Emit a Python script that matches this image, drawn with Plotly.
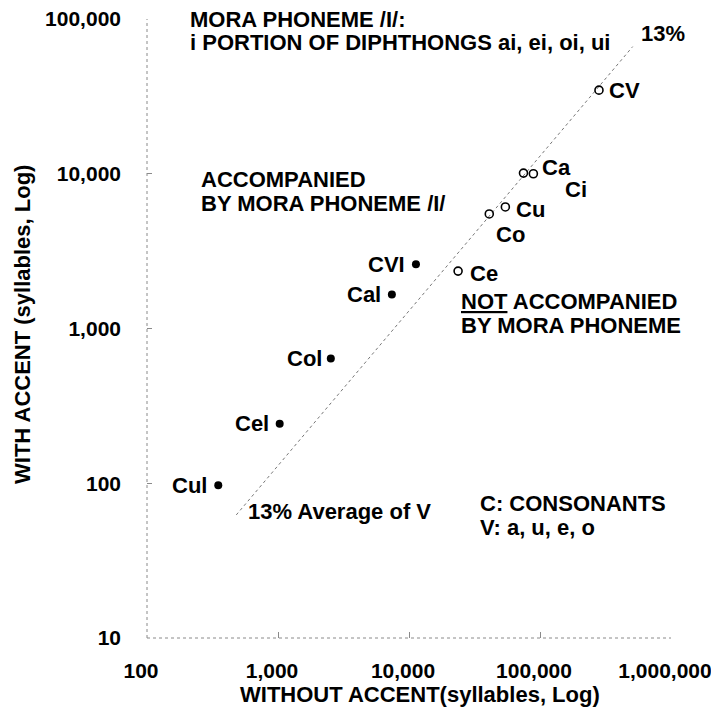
import numpy as np
import plotly.graph_objects as go

# syllables not accompanied by mora phoneme (open circles)
open_labels = ["CV", "Ca", "Ci", "Cu", "Co", "Ce"]
open_without = [282000, 74800, 89000, 54400, 41000, 23700]
open_with = [34700, 10100, 10000, 6100, 5500, 2350]

# syllables accompanied by mora phoneme /I/ (filled dots)
mora_labels = ["CVI", "Cal", "Col", "Cel", "Cul"]
mora_without = [11300, 7400, 2530, 1030, 350]
mora_with = [2600, 1660, 640, 242, 97]

# 13% average line
avg_ratio = 0.13
avg_x = [480, 510000]

tick_vals_x = [100, 1000, 10000, 100000, 1000000]
tick_text_x = ["100", "1,000", "10,000", "100,000", "1,000,000"]
tick_vals_y = [10, 100, 1000, 10000, 100000]
tick_text_y = ["10", "100", "1,000", "10,000", "100,000"]

FONT = "Liberation Sans, Arial, sans-serif"
FS = 22
GRAY = "#8a8a8a"

# page has an 8px body margin; work in page pixels and convert
PAD = 8
FIG_W, FIG_H = 719 - PAD, 715 - PAD
L, T, W, H = 147 - PAD, 19 - PAD, 524, 619

fig = go.Figure()

fig.add_trace(go.Scatter(
    x=avg_x, y=[v * avg_ratio for v in avg_x], mode="lines",
    line=dict(color="#777777", width=1, dash="dot"), hoverinfo="skip"))

fig.add_trace(go.Scatter(
    x=open_without, y=open_with, mode="markers",
    marker=dict(symbol="circle-open", size=8, color="black", line=dict(width=1.6))))

fig.add_trace(go.Scatter(
    x=mora_without, y=mora_with, mode="markers",
    marker=dict(symbol="circle", size=8, color="black")))

# label offsets (px) for each point
open_offsets = [(8, 0, "left"), (17, 6, "left"), (30, -16, "left"),
                (9, -3, "left"), (5, -21, "left"), (10, -2, "left")]
mora_offsets = [(-9, 0, "right"), (-9, 0, "right"), (-7, 0, "right"),
                (-9, 0, "right"), (-9, 0, "right")]

annotations = []
for lab, xv, yv, (dx, dy, anc) in zip(open_labels + mora_labels,
                                      open_without + mora_without,
                                      open_with + mora_with,
                                      open_offsets + mora_offsets):
    annotations.append(dict(x=np.log10(xv), y=np.log10(yv), xref="x", yref="y",
                            text="<b>%s</b>" % lab, showarrow=False,
                            xanchor=anc, yanchor="middle", xshift=dx, yshift=dy))


def px(x, y):
    # page pixel -> paper coords
    return (x - PAD - L) / W, (T + H - (y - PAD)) / H


notes = [
    ("MORA PHONEME /I/:", 188, 20),
    ("i PORTION OF DIPHTHONGS ai, ei, oi, ui", 188, 43),
    ("13%", 639, 33),
    ("ACCOMPANIED", 199, 180),
    ("BY MORA PHONEME /I/", 199, 203),
    ("<u>NOT</u> ACCOMPANIED", 459, 301),
    ("BY MORA PHONEME", 459, 325),
    ("13% Average of V", 246, 512),
    ("C: CONSONANTS", 478, 503),
    ("V: a, u, e, o", 478, 527),
]
for txt, x, y in notes:
    xx, yy = px(x, y)
    annotations.append(dict(x=xx, y=yy, xref="paper", yref="paper", text="<b>%s</b>" % txt,
                            showarrow=False, xanchor="left", yanchor="middle"))

# axis titles
xx, yy = px(420, 694)
annotations.append(dict(x=xx, y=yy, xref="paper", yref="paper",
                        text="<b>WITHOUT ACCENT(syllables, Log)</b>",
                        showarrow=False, xanchor="center", yanchor="middle"))
xx, yy = px(22, 325)
annotations.append(dict(x=xx, y=yy, xref="paper", yref="paper",
                        text="<b>WITH ACCENT (syllables, Log)</b>", textangle=-90,
                        showarrow=False, xanchor="center", yanchor="middle"))

fig.update_layout(
    width=FIG_W, height=FIG_H,
    margin=dict(l=L, r=FIG_W - L - W, t=T, b=FIG_H - T - H, autoexpand=False),
    paper_bgcolor="white", plot_bgcolor="white",
    showlegend=False,
    font=dict(family=FONT, size=FS, color="black"),
    annotations=annotations,
    shapes=[
        dict(type="line", xref="paper", yref="paper", x0=0, x1=0, y0=0, y1=1,
             line=dict(color=GRAY, width=1, dash="dot")),
        dict(type="line", xref="paper", yref="paper", x0=0, x1=1, y0=0, y1=0,
             line=dict(color=GRAY, width=1, dash="dot")),
    ],
)
fig.update_xaxes(type="log", range=[2, 6], showgrid=False, zeroline=False, showline=False,
                 automargin=False, ticklabeloverflow="allow", tickfont=dict(size=21),
                 tickvals=tick_vals_x, ticktext=["<b>%s</b>" % t for t in tick_text_x],
                 ticks="inside", ticklen=6, tickcolor=GRAY,
                 ticklabelstandoff=18, ticklabelshift=-6)
fig.update_yaxes(type="log", range=[1, 5], showgrid=False, zeroline=False, showline=False,
                 automargin=False, ticklabeloverflow="allow", tickfont=dict(size=21),
                 tickvals=tick_vals_y, ticktext=["<b>%s</b>" % t for t in tick_text_y],
                 ticks="inside", ticklen=5, tickcolor=GRAY, ticklabelstandoff=25)

fig.write_html("out.html")
